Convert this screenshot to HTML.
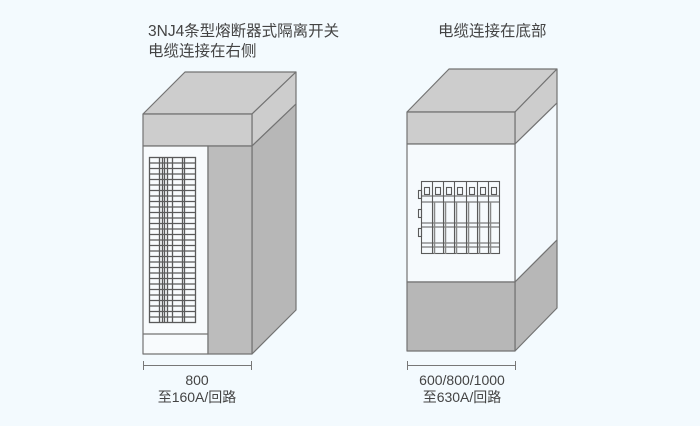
<!DOCTYPE html>
<html><head><meta charset="utf-8"><style>
html,body{margin:0;padding:0;background:#f3fafe;}
svg{display:block}
text{font-family:"Liberation Sans","Noto Sans CJK SC",sans-serif;fill:#444;font-size:15.5px}
.s{font-size:14px}
</style></head><body>
<svg width="700" height="426" viewBox="0 0 700 426" xmlns="http://www.w3.org/2000/svg">
<rect width="700" height="426" fill="#f3fafe"/>
<text x="148" y="36">3NJ4条型熔断器式隔离开关</text>
<text x="148" y="56">电缆连接在右侧</text>
<text x="438" y="36">电缆连接在底部</text>

<g stroke="#737373" stroke-width="1.2" stroke-linejoin="round">
<polygon points="143,114 185,72 296,72 252,114" fill="#cdcdcd"/>
<polygon points="252,114 296,72 296,104 252,146" fill="#cdcdcd"/>
<rect x="143" y="114" width="109" height="32" fill="#cdcdcd"/>
<polygon points="252,146 296,104 296,310 252,354" fill="#b7b7b7"/>
<rect x="143" y="146" width="65" height="208" fill="#f8fbfd"/>
<rect x="208" y="146" width="44" height="208" fill="#bcbcbc"/>
<line x1="143" y1="334" x2="208" y2="334"/>
</g>
<g stroke="#5a5a5a" stroke-width="1.3" fill="none">
<rect x="149.5" y="157.5" width="46" height="165"/>
<path d="M159.5 157v165M162.5 157v165M164.5 157v165M167.5 157v165M172.5 157v165M182.5 157v165M184.5 157v165"/>
<path d="M149 163h46M149 168.5h46M149 174h46M149 179.5h46M149 185h46M149 190.5h46M149 196h46M149 201.5h46M149 207h46M149 212.5h46M149 218h46M149 223.5h46M149 229h46M149 234.5h46M149 240h46M149 245.5h46M149 251h46M149 256.5h46M149 262h46M149 267.5h46M149 273h46M149 278.5h46M149 284h46M149 289.5h46M149 295h46M149 300.5h46M149 306h46M149 311.5h46M149 317h46"/>
</g>

<g stroke="#737373" stroke-width="1.2" stroke-linejoin="round">
<polygon points="407,112 449,69 557,69 515,112" fill="#cdcdcd"/>
<polygon points="515,112 557,69 557,103 515,144" fill="#cdcdcd"/>
<rect x="407" y="112" width="108" height="32" fill="#cdcdcd"/>
<polygon points="515,144 557,103 557,240 515,282" fill="#f3f9fd"/>
<polygon points="515,282 557,240 557,308 515,351" fill="#b7b7b7"/>
<rect x="407" y="144" width="108" height="138" fill="#f6fafd"/>
<rect x="407" y="282" width="108" height="69" fill="#b7b7b7"/>
</g>
<g stroke="#5a5a5a" stroke-width="1.1" fill="none">
<rect x="421.5" y="181.5" width="78" height="72"/>
<path d="M421 196h78M421 202h78M421 223h78M421 227h78M421 243h78M421 247h78"/>
<path d="M432.5 181v73M443.5 181v73M454.5 181v73M466.5 181v73M477.5 181v73M488.5 181v73"/>
<path d="M434.5 202v52M445.5 202v52M456.5 202v52M468.5 202v52M479.5 202v52M490.5 202v52" stroke="#888" stroke-width="1.5"/>
<rect x="424.5" y="187.5" width="5" height="7"/><rect x="435.5" y="187.5" width="5" height="7"/><rect x="446.5" y="187.5" width="5" height="7"/><rect x="457.5" y="187.5" width="5" height="7"/><rect x="469.5" y="187.5" width="5" height="7"/><rect x="480.5" y="187.5" width="5" height="7"/><rect x="491.5" y="187.5" width="5" height="7"/>
<rect x="418.5" y="190.5" width="3" height="8"/><rect x="418.5" y="209.5" width="3" height="8"/><rect x="418.5" y="228.5" width="3" height="8"/>
</g>

<g stroke="#777" stroke-width="1">
<path d="M143 365.5h109M143.5 361v9M251.5 361v9"/>
<path d="M407 365.5h109M407.5 361v9M515.5 361v9"/>
</g>
<text class="s" x="197" y="385" text-anchor="middle">800</text>
<text class="s" x="197" y="402" text-anchor="middle">至160A/回路</text>
<text class="s" x="462" y="385" text-anchor="middle">600/800/1000</text>
<text class="s" x="462" y="402" text-anchor="middle">至630A/回路</text>
</svg>
</body></html>
